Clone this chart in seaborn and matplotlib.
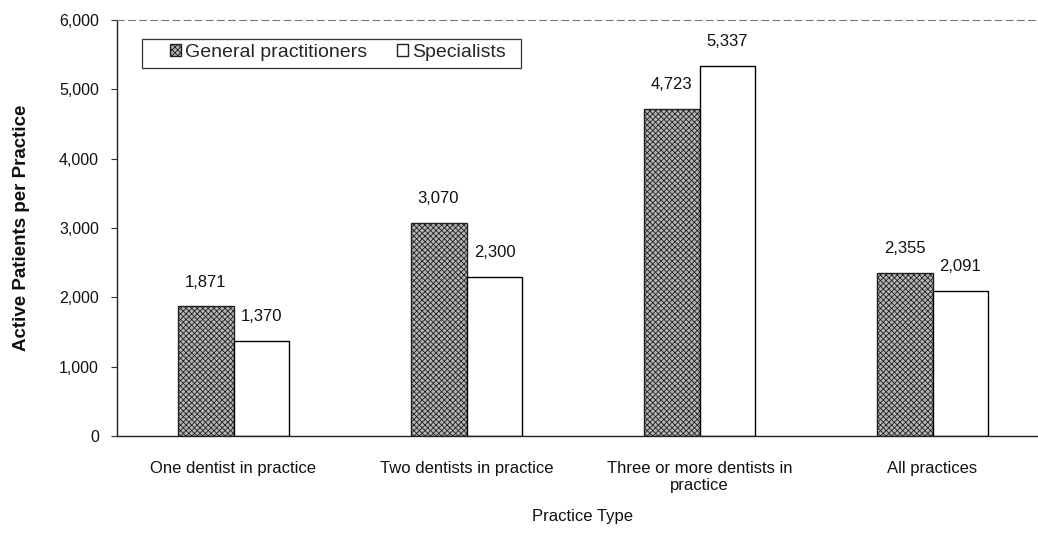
import matplotlib
matplotlib.use("Agg")
import matplotlib.pyplot as plt
from matplotlib.patches import Patch, Rectangle
import seaborn as sns
import pandas as pd

# Data
practice_types = [
    "One dentist in practice",
    "Two dentists in practice",
    "Three or more dentists in\npractice",
    "All practices",
]
general_practitioners = [1871, 3070, 4723, 2355]
specialists = [1370, 2300, 5337, 2091]
series_names = ["General practitioners", "Specialists"]
y_ticks = [0, 1000, 2000, 3000, 4000, 5000, 6000]

df = pd.DataFrame({
    "Practice Type": practice_types * 2,
    "Group": [series_names[0]] * 4 + [series_names[1]] * 4,
    "Patients": general_practitioners + specialists,
})

sns.set_theme(style="white")
plt.rcParams["font.family"] = ["Liberation Sans", "DejaVu Sans"]
plt.rcParams["hatch.linewidth"] = 0.6

fig = plt.figure(figsize=(10.38, 5.5), dpi=100)
ax = fig.add_axes([117 / 1038, 114 / 550, 932 / 1038, 416 / 550])

gp_face = "#b4b4b4"
sp_face = "#ffffff"
sns.barplot(
    data=df, x="Practice Type", y="Patients", hue="Group",
    hue_order=series_names, order=practice_types,
    palette=[gp_face, sp_face], width=0.48, gap=0,
    edgecolor="black", linewidth=1.0, legend=False, ax=ax,
)

# Stippled fill for general practitioners
for bar in ax.containers[0]:
    bar.set_hatch("xxxxxx")
    bar.set_edgecolor("#222222")

for cont in ax.containers:
    ax.bar_label(cont, labels=[f"{v:,.0f}" for v in cont.datavalues],
                 padding=12, fontsize=12, color="#111111")

ax.set_xlim(-0.5, 3.5)
ax.set_ylim(0, 6000)
ax.set_yticks(y_ticks)
ax.set_yticklabels([f"{v:,}" for v in y_ticks], fontsize=11.5, color="#111111")
ax.tick_params(axis="y", left=True, length=4, width=0.8, color="#333333", pad=9)
ax.tick_params(axis="x", bottom=False, labelsize=12, labelcolor="#111111", pad=12)

ax.set_xlabel("Practice Type", fontsize=12, color="#111111", labelpad=11)
ax.set_ylabel("Active Patients per Practice", fontsize=13.5, fontweight="bold",
              color="#111111", labelpad=21)

for side in ["left", "bottom"]:
    ax.spines[side].set_color("#222222")
    ax.spines[side].set_linewidth(1.0)
ax.spines["top"].set_linestyle((0, (6, 4)))
ax.spines["top"].set_color("#777777")
ax.spines["top"].set_linewidth(0.8)
ax.spines["right"].set_visible(False)

handles = [
    Patch(facecolor=gp_face, edgecolor="#222222", hatch="xxxxxx", label=series_names[0]),
    Patch(facecolor=sp_face, edgecolor="#222222", label=series_names[1]),
]
leg = ax.legend(handles=handles, ncol=2, loc="center left",
                bbox_to_anchor=(0.0565, 0.922), fontsize=14,
                handlelength=0.6, handleheight=0.6, handletextpad=0.2,
                columnspacing=1.5, frameon=False,
                borderpad=0, borderaxespad=0)

# Legend box, wider than the entries on both sides
ax.add_patch(Rectangle((0.027, 0.885), 0.406, 0.07, transform=ax.transAxes,
                       facecolor="none", edgecolor="#333333", linewidth=0.9,
                       zorder=5, clip_on=False))

fig.savefig("out.png", dpi=100)
